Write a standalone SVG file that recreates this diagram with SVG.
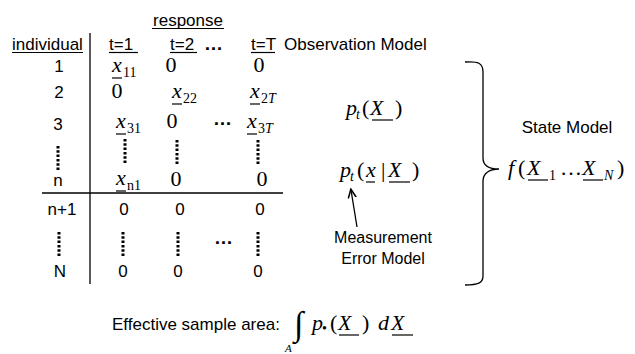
<svg xmlns="http://www.w3.org/2000/svg" width="635" height="354" viewBox="0 0 635 354">
<style>
.s{font-family:"Liberation Sans",Arial,sans-serif;font-size:17px;fill:#000}
.c{text-anchor:middle}
.m{font-family:"Liberation Serif","Times New Roman",serif;font-size:22px;font-style:italic;fill:#000}
.r{font-family:"Liberation Serif","Times New Roman",serif;font-size:22px;fill:#000}
.sb{font-family:"Liberation Serif","Times New Roman",serif;font-size:14px;fill:#000}
.si{font-family:"Liberation Serif","Times New Roman",serif;font-size:14px;font-style:italic;fill:#000}
.u{stroke:#000;stroke-width:1.2;fill:none}
.ln{stroke:#000;stroke-width:1.3;fill:none}
.dv{stroke:#000;stroke-width:3;stroke-dasharray:2.5 1.8;fill:none}
.el{font-family:"Liberation Sans",Arial,sans-serif;font-size:19px;font-weight:bold;fill:#000}
.lb{font-family:"Liberation Sans",Arial,sans-serif;font-size:16px;fill:#000;text-anchor:middle}
</style>
<defs>
<marker id="ah" markerWidth="10" markerHeight="10" refX="8" refY="5" orient="auto" markerUnits="userSpaceOnUse">
<path d="M0,1 L9,5 L0,9" fill="none" stroke="#000" stroke-width="1.5"/>
</marker>
</defs>

<g id="headers">
<text class="s c" x="188" y="26">response</text><line class="u" x1="152" y1="28.5" x2="224" y2="28.5"/>
<text class="s" x="12" y="50">individual</text><line class="u" x1="12" y1="52.5" x2="83" y2="52.5"/>
<text class="s" x="109" y="50">t=1</text><line class="u" x1="109" y1="52.5" x2="138" y2="52.5"/>
<text class="s" x="170" y="50">t=2</text><line class="u" x1="170" y1="52.5" x2="197" y2="52.5"/>
<text class="el" x="204" y="50">…</text>
<text class="s" x="251" y="50">t=T</text><line class="u" x1="251" y1="52.5" x2="275" y2="52.5"/>
<text class="s" x="284" y="50">Observation Model</text>
</g>

<g id="table-lines">
<line class="ln" x1="90" y1="33" x2="90" y2="284"/>
<line class="ln" x1="42" y1="193" x2="283" y2="193"/>
</g>

<g id="row-labels">
<text class="s c" x="59" y="72">1</text>
<text class="s c" x="59" y="98">2</text>
<text class="s c" x="58" y="130">3</text>
<line class="dv" x1="58" y1="146" x2="58" y2="171"/>
<text class="s c" x="58" y="186">n</text>
<text class="s c" x="62" y="215">n+1</text>
<line class="dv" x1="59" y1="232" x2="59" y2="257"/>
<text class="s c" x="60" y="277">N</text>
</g>

<g id="cells-observed">
<text class="m" x="112" y="72">x</text><text class="sb" x="123" y="77">11</text><line class="u" x1="112" y1="78" x2="122" y2="78"/>
<text class="r c" x="171" y="72">0</text>
<text class="r c" x="259" y="72">0</text>

<text class="r c" x="117" y="98">0</text>
<text class="m" x="172" y="98">x</text><text class="sb" x="183" y="103">22</text><line class="u" x1="172" y1="104" x2="182" y2="104"/>
<text class="m" x="250" y="98">x</text><text class="sb" x="261" y="103">2</text><text class="si" x="268" y="103">T</text><line class="u" x1="250" y1="104" x2="260" y2="104"/>

<text class="m" x="116" y="128">x</text><text class="sb" x="127" y="133">31</text><line class="u" x1="116" y1="134" x2="126" y2="134"/>
<text class="r c" x="172" y="128">0</text>
<text class="el" x="213" y="125">…</text>
<text class="m" x="247" y="128">x</text><text class="sb" x="258" y="133">3</text><text class="si" x="265" y="133">T</text><line class="u" x1="247" y1="134" x2="257" y2="134"/>

<line class="dv" x1="125" y1="139" x2="125" y2="164"/>
<line class="dv" x1="177" y1="140" x2="177" y2="165"/>
<line class="dv" x1="258" y1="140" x2="258" y2="165"/>

<text class="m" x="116" y="185">x</text><text class="sb" x="127" y="190">n1</text><line class="u" x1="116" y1="191" x2="126" y2="191"/>
<text class="r c" x="176" y="186">0</text>
<text class="r c" x="262" y="186">0</text>
</g>

<g id="cells-unobserved">
<text class="s c" x="124" y="215">0</text>
<text class="s c" x="180" y="215">0</text>
<text class="s c" x="260" y="215">0</text>
<line class="dv" x1="123" y1="232" x2="123" y2="257"/>
<line class="dv" x1="178" y1="232" x2="178" y2="257"/>
<text class="el" x="214" y="244">…</text>
<line class="dv" x1="258" y1="232" x2="258" y2="257"/>
<text class="s c" x="123" y="277">0</text>
<text class="s c" x="178" y="277">0</text>
<text class="s c" x="258" y="277">0</text>
</g>

<g id="obs-model">
<text class="m" x="346" y="115">p</text><text class="si" x="356" y="119">t</text>
<text class="r" x="362" y="115">(</text><text class="m" x="370" y="115">X</text><text class="r" x="395" y="115">)</text>
<line class="u" x1="372" y1="120" x2="393" y2="120"/>
</g>

<g id="meas-model">
<text class="m" x="340" y="177">p</text><text class="si" x="350" y="181">t</text>
<text class="r" x="357" y="177">(</text><text class="m" x="366" y="177">x</text>
<line class="u" x1="366" y1="182" x2="375" y2="182"/>
<text class="r" x="381" y="177">|</text>
<text class="m" x="388" y="177">X</text>
<line class="u" x1="389" y1="182" x2="410" y2="182"/>
<text class="r" x="412" y="177">)</text>
</g>

<g id="connectors">
<line class="ln" x1="357" y1="227" x2="351" y2="190" marker-end="url(#ah)"/>
<path class="ln" stroke-width="1.6" d="M465,62 C478,61 483,63 483,72 L483,158 C483,166 490,169 499,169 C490,169 483,173 483,181 L483,276 C483,283 478,285 465,285"/>
</g>

<g id="meas-label">
<text class="lb" x="383" y="243">Measurement</text>
<text class="lb" x="383" y="264">Error Model</text>
</g>

<g id="state-model">
<text class="s c" x="567" y="133">State Model</text>
<text class="m" x="508" y="175">f</text><text class="r" x="518" y="175">(</text>
<text class="m" x="527" y="175">X</text><line class="u" x1="528" y1="180" x2="548" y2="180"/><text class="sb" x="549" y="180">1</text>
<text class="r" x="560" y="175">…</text>
<text class="m" x="582" y="175">X</text><line class="u" x1="583" y1="180" x2="603" y2="180"/><text class="si" x="604" y="180">N</text>
<text class="r" x="617" y="175">)</text>
</g>

<g id="effective-area">
<text class="s" x="112" y="330">Effective sample area:</text>
<text class="r" x="294" y="335" style="font-size:34px">∫</text>
<text class="si" x="285" y="352" style="font-size:11px">A</text>
<text class="m" x="312" y="330">p</text><text class="sb" x="322" y="333">•</text>
<text class="r" x="330" y="330">(</text><text class="m" x="338" y="330">X</text><line class="u" x1="339" y1="335" x2="359" y2="335"/><text class="r" x="362" y="330">)</text>
<text class="m" x="378" y="330">d</text>
<text class="m" x="391" y="330">X</text><line class="u" x1="392" y1="335" x2="413" y2="335"/>
</g>
</svg>
